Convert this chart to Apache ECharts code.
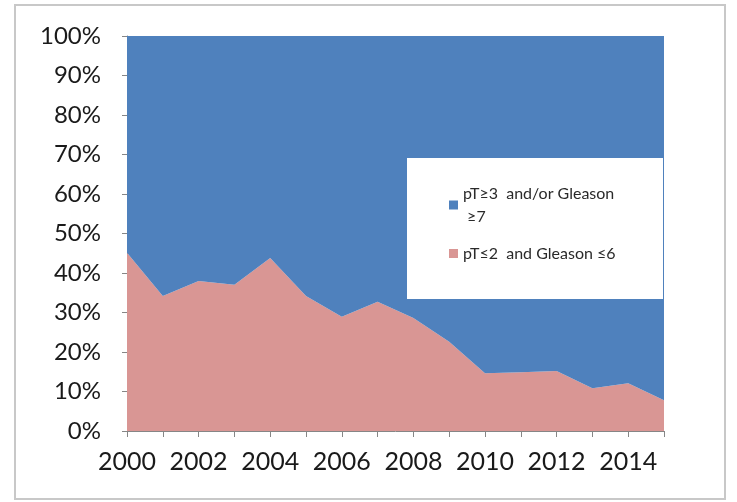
<!DOCTYPE html>
<html>
<head>
<meta charset="utf-8">
<script src="https://cdn.jsdelivr.net/npm/echarts@6/dist/echarts.min.js"></script>
<style>html,body{margin:0;padding:0;background:#fff;}#c{width:737px;height:502px;}</style>
</head>
<body>
<div id="c"></div>
<script>
const years = ['2000','2001','2002','2003','2004','2005','2006','2007','2008','2009','2010','2011','2012','2013','2014','2015'];
const lowRisk = [45.1, 34.2, 38.0, 37.0, 43.8, 34.2, 28.9, 32.7, 28.6, 22.6, 14.6, 14.9, 15.2, 10.8, 12.1, 7.8];
const highRisk = [54.9, 65.8, 62.0, 63.0, 56.2, 65.8, 71.1, 67.3, 71.4, 77.4, 85.4, 85.1, 84.8, 89.2, 87.9, 92.2];
const highName = 'pT≥3  and/or Gleason ≥7';
const lowName = 'pT≤2  and Gleason ≤6';
const yTicks = [0, 10, 20, 30, 40, 50, 60, 70, 80, 90, 100];

const chart = echarts.init(document.getElementById('c'), null, {renderer: 'canvas'});
const labelFont = 'Lato';
chart.setOption({
  animation: false,
  backgroundColor: '#fff',
  grid: {left: 127, right: 73, top: 36, bottom: 71, containLabel: false},
  graphic: [
    {type: 'rect', z: -1, shape: {x: 15, y: 5, width: 710, height: 494}, style: {fill: 'none', stroke: '#c8c8c8', lineWidth: 2}},
    {type: 'rect', z: 10, shape: {x: 407, y: 158, width: 256, height: 141}, style: {fill: '#fff'}}
  ],
  legend: {
    z: 20,
    left: 444, top: 177,
    orient: 'vertical',
    itemWidth: 9, itemHeight: 9, itemGap: 14,
    icon: 'rect',
    data: [highName, lowName],
    formatter: function (n) { return n === highName ? 'pT≥3  and/or Gleason\n ≥7' : n; },
    textStyle: {fontFamily: 'Lato', fontSize: 16, color: '#2a2a2a', lineHeight: 23}
  },
  xAxis: {
    type: 'category',
    data: years,
    boundaryGap: false,
    axisLine: {lineStyle: {color: '#868686', width: 1}},
    axisTick: {show: true, interval: 0, length: 6, lineStyle: {color: '#868686'}},
    axisLabel: {interval: 1, margin: 18, fontFamily: labelFont, fontSize: 25, color: '#1a1a1a'}
  },
  yAxis: {
    type: 'value',
    min: yTicks[0], max: yTicks[yTicks.length - 1], interval: 10,
    axisLine: {show: true, lineStyle: {color: '#868686', width: 1}},
    axisTick: {show: true, length: 5, lineStyle: {color: '#868686'}},
    splitLine: {show: false},
    axisLabel: {formatter: '{value}%', margin: 26, fontFamily: labelFont, fontSize: 24, color: '#1a1a1a'}
  },
  series: [
    {name: lowName, type: 'line', stack: 'all', data: lowRisk, symbol: 'none',
     lineStyle: {width: 0}, areaStyle: {color: '#D99694', opacity: 1}, itemStyle: {color: '#D99694'}, z: 2},
    {name: highName, type: 'line', stack: 'all', data: highRisk, symbol: 'none',
     lineStyle: {width: 0}, areaStyle: {color: '#4F81BD', opacity: 1}, itemStyle: {color: '#4F81BD'}, z: 2}
  ]
});
</script>
</body>
</html>
